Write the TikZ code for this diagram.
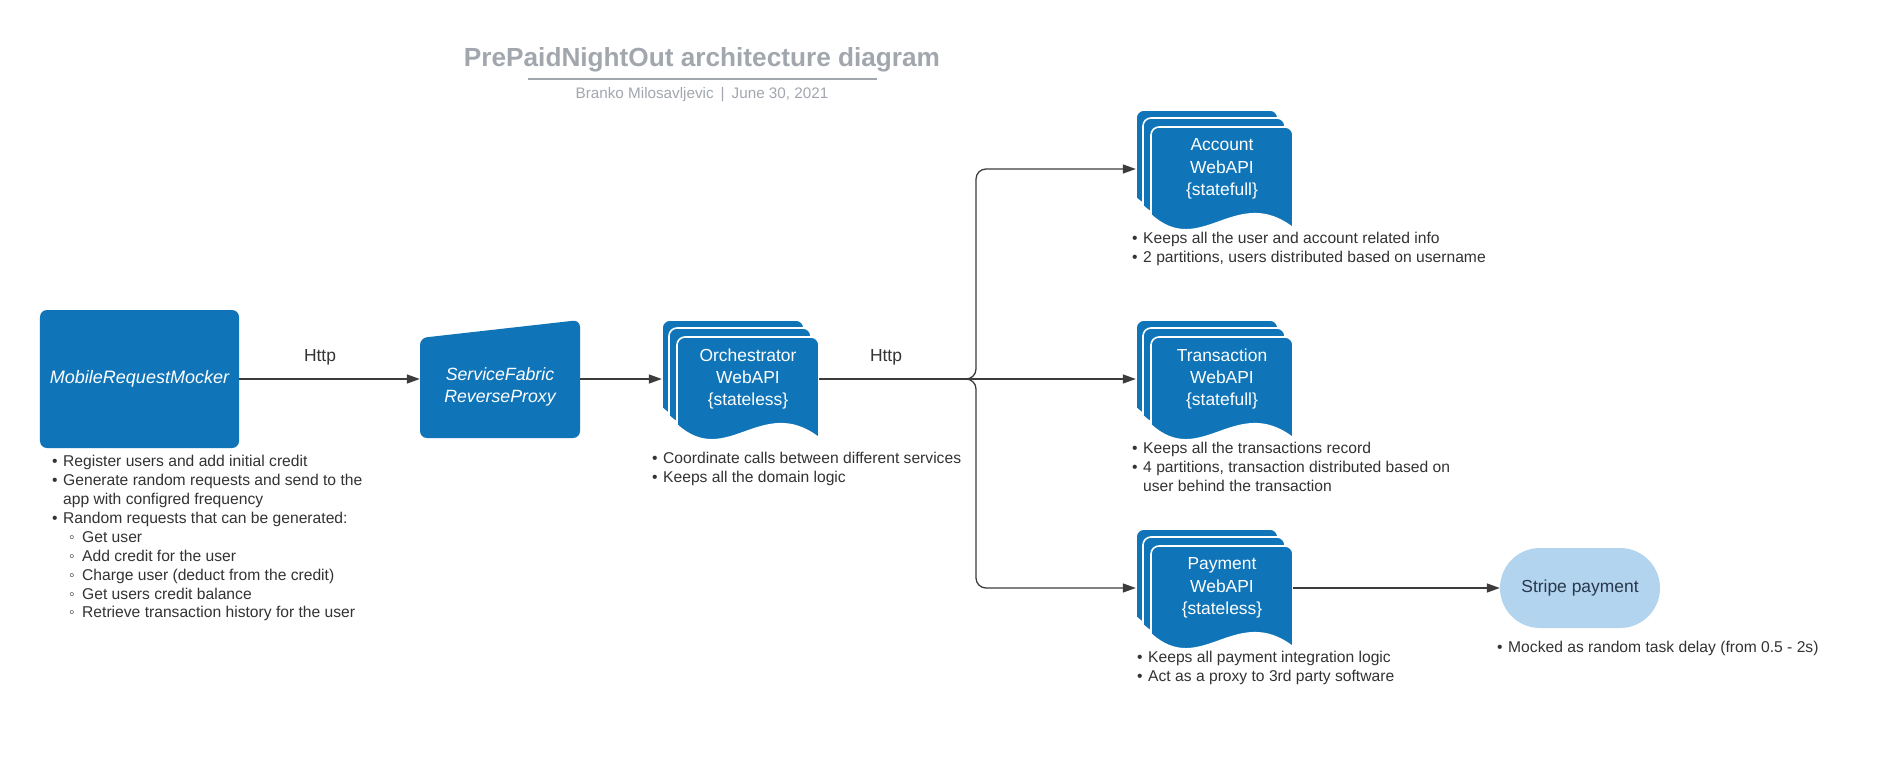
\documentclass[tikz,border=0pt]{standalone}
\usepackage{fontspec}
\setmainfont{Liberation Sans}
\usetikzlibrary{arrows.meta,calc}
\definecolor{lblue}{RGB}{15,117,184}
\definecolor{sblue}{RGB}{178,212,238}
\definecolor{txt}{RGB}{51,51,51}
\definecolor{ttl}{RGB}{162,167,174}
\definecolor{ln}{RGB}{60,60,60}
\definecolor{stxt}{RGB}{40,55,75}

\newcommand\docpath[2]{%
  \filldraw[fill=lblue, draw=white, line width=1.6bp]
    (#1,#2+88) -- (#1,#2+8) arc[start angle=180,end angle=90,radius=8bp]
    -- (#1+134,#2) arc[start angle=90,end angle=0,radius=8bp]
    -- (#1+142,#2+101) .. controls (#1+85,#2+57) and (#1+50,#2+133) .. (#1,#2+88) -- cycle;}

\newcommand\multidoc[4]{%
  \docpath{#2-15}{#3-17}
  \docpath{#2-8}{#3-9}
  \docpath{#2}{#3}
  \node[grp] (#1) at (#2+63.5, #3+42) {};
  \node[doctext] (#1-t) at (#2+71, #3+42) {#4};}

\newcommand\bul{\makebox[11bp][l]{•}}
\newcommand\cont{\hspace*{11bp}}
\newcommand\sbul{\hspace*{17bp}\makebox[13bp][l]{◦}}

\begin{document}
\begin{tikzpicture}[x=1bp,y=-1bp,
  grp/.style={minimum width=157bp, minimum height=118bp, inner sep=0pt, draw=none},
  doctext/.style={text=white, align=center, inner sep=0pt, font=\fontsize{17.5}{22.5}\selectfont},
  boxtext/.style={text=white, align=center, inner sep=0pt, font=\fontsize{17.8}{22.5}\selectfont\itshape},
  bullets/.style={anchor=north west, inner sep=0pt, align=left, text=txt, font=\fontsize{15.7}{19}\selectfont},
  lbl/.style={text=txt, inner sep=0pt, font=\fontsize{17.5}{21}\selectfont},
  conn/.style={draw=ln, line width=1.3bp, -{Triangle[length=13bp,width=9bp]}},
]
\useasboundingbox[fill=white] (0,0) rectangle (1886,769);

% title
\node[text=ttl, font=\fontsize{26.3}{32}\selectfont\bfseries] (title) at (702,60) {PrePaidNightOut architecture diagram};
\coordinate (ul1) at (528,79);
\coordinate (ul2) at (877,79);
\draw[ttl, line width=2bp] (ul1) -- (ul2);
\node[text=ttl, font=\fontsize{15.3}{18}\selectfont] (sub) at (702,95) {Branko Milosavljevic\hspace{7bp}|\hspace{7bp}June 30, 2021};

% MobileRequestMocker
\node[fill=lblue, rounded corners=7bp, minimum width=199bp, minimum height=138bp, inner sep=0pt,
      text=white, font=\fontsize{18.1}{22}\selectfont\itshape] (mock) at (139.5,379) {MobileRequestMocker};
\node[bullets] (mockb) at (52,455) {\bul Register users and add initial credit\\
\bul Generate random requests and send to the\\
\cont app with configred frequency\\
\bul Random requests that can be generated:\\
\sbul Get user\\
\sbul Add credit for the user\\
\sbul Charge user (deduct from the credit)\\
\sbul Get users credit balance\\
\sbul Retrieve transaction history for the user};

% ServiceFabric ReverseProxy
\fill[lblue, rounded corners=7bp] (420,438) -- (420,338) -- (580,320) -- (580,438) -- cycle;
\node[minimum width=160bp, minimum height=118bp, inner sep=0pt] (proxy) at (500,379) {};
\node[boxtext] (proxy-t) at (500,387) {ServiceFabric\\ReverseProxy};

% Orchestrator
\multidoc{orch}{677}{337}{Orchestrator\\WebAPI\\\{stateless\}}
\node[bullets] (orchb) at (652,452) {\bul Coordinate calls between different services\\
\bul Keeps all the domain logic};

% Account
\multidoc{acc}{1151}{127}{Account\\WebAPI\\\{statefull\}}
\node[bullets] (accb) at (1132,232) {\bul Keeps all the user and account related info\\
\bul 2 partitions, users distributed based on username};

% Transaction
\multidoc{trans}{1151}{337}{Transaction\\WebAPI\\\{statefull\}}
\node[bullets] (transb) at (1132,442) {\bul Keeps all the transactions record\\
\bul 4 partitions, transaction distributed based on\\
\cont user behind the transaction};

% Payment
\multidoc{pay}{1151}{546}{Payment\\WebAPI\\\{stateless\}}
\node[bullets] (payb) at (1137,651) {\bul Keeps all payment integration logic\\
\bul Act as a proxy to 3rd party software};

% Stripe
\node[fill=sblue, rounded corners=40bp, minimum width=160bp, minimum height=80bp, inner sep=0pt,
      text=stxt, font=\fontsize{17.5}{21}\selectfont] (stripe) at (1580,588) {Stripe payment};
\node[bullets] (stripeb) at (1497,641) {\bul Mocked as random task delay (from 0.5 - 2s)};

% connectors
\draw[conn] (mock.east) -- (proxy.west);
\node[lbl] (h1) at (320,357) {Http};
\draw[conn] (proxy.east) -- (orch.west);
\node[lbl] (h2) at (886,357) {Http};
\coordinate (jn) at (976,379);
\draw[conn, rounded corners=10bp] (orch.east) -- (jn) |- (acc.west);
\draw[conn] (orch.east) -- (trans.west);
\draw[conn, rounded corners=10bp] (orch.east) -- (jn) |- (pay.west);
\draw[conn] (pay.east) -- (stripe.west);
\end{tikzpicture}
\end{document}
